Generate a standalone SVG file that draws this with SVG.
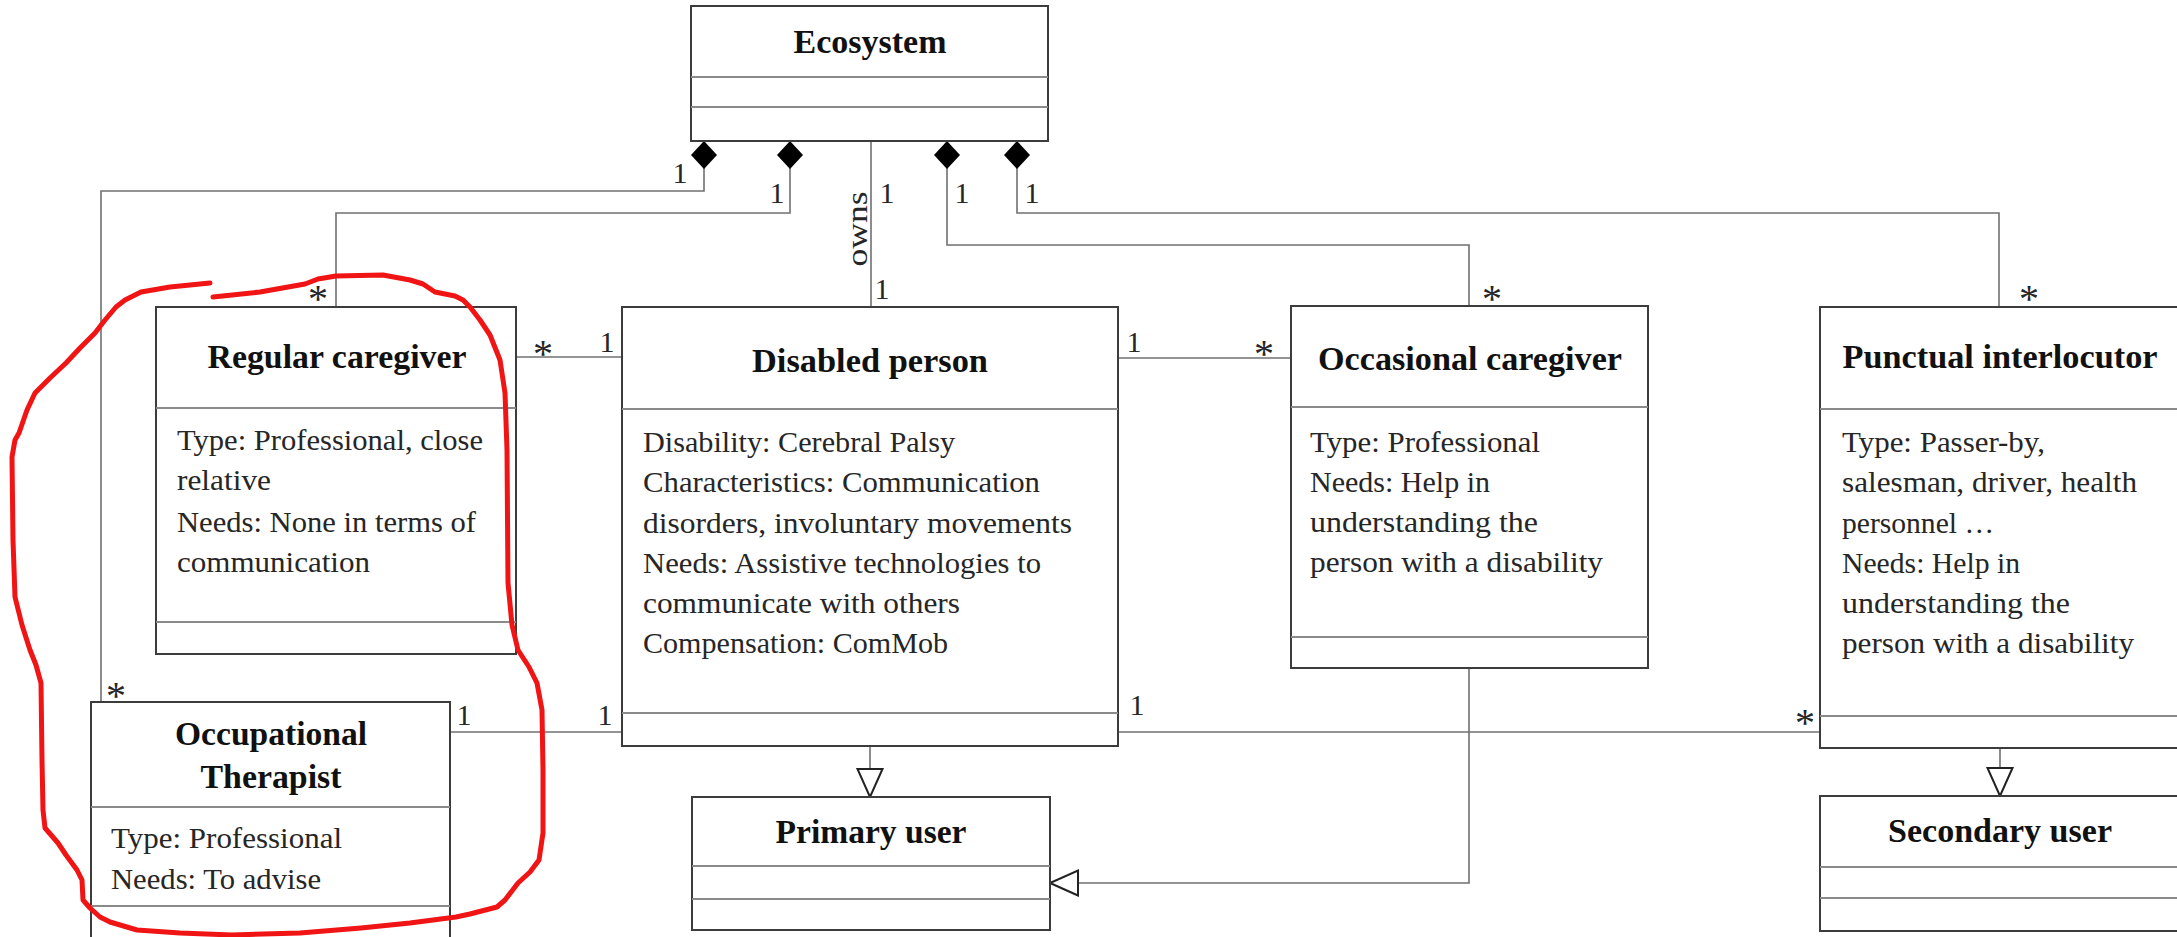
<svg xmlns="http://www.w3.org/2000/svg" width="2177" height="937" viewBox="0 0 2177 937">
  <defs>
    <style>
      .box{fill:#fff;stroke:#3c3c3c;stroke-width:2}
      .sep{stroke:#8a8a8a;stroke-width:2;fill:none}
      .conn{fill:none;stroke:#707070;stroke-width:1.6}
      .title{font-family:"Liberation Serif",serif;font-weight:bold;font-size:33px;fill:#111;text-anchor:middle}
      .attr{font-family:"Liberation Serif",serif;font-size:30px;fill:#262626}
      .mult{font-family:"Liberation Serif",serif;font-size:30px;fill:#262626;text-anchor:middle}
      .star{font-family:"Liberation Serif",serif;font-size:40px;fill:#262626;text-anchor:middle}
      .ink{fill:none;stroke:#f01414;stroke-width:5;stroke-linecap:round;stroke-linejoin:round}
    </style>
    <!-- filled diamond for composition ends -->
    <marker id="diamond" markerUnits="userSpaceOnUse" markerWidth="30" markerHeight="30" refX="0" refY="0" viewBox="-1 -15 30 30" orient="auto">
      <path d="M0,0 L14,-13 L28,0 L14,13 Z" fill="#000"/>
    </marker>
    <!-- hollow triangle for generalisation ends -->
    <marker id="gen" markerUnits="userSpaceOnUse" markerWidth="32" markerHeight="30" refX="28" refY="0" viewBox="-2 -15 32 30" orient="auto">
      <path d="M0,-12.5 L28,0 L0,12.5 Z" fill="#fff" stroke="#222" stroke-width="2"/>
    </marker>
  </defs>

  <rect width="2177" height="937" fill="#fff"/>

  <!-- connectors -->
  <g id="connectors">
    <path class="conn" d="M704,141 V191 H101 V702" marker-start="url(#diamond)"/>
    <path class="conn" d="M790,141 V213 H336 V307" marker-start="url(#diamond)"/>
    <path class="conn" d="M871,141 V307"/>
    <path class="conn" d="M947,141 V245 H1469 V306" marker-start="url(#diamond)"/>
    <path class="conn" d="M1017,141 V213 H1999 V307" marker-start="url(#diamond)"/>
    <path class="conn" d="M516,357 H622"/>
    <path class="conn" d="M1118,358 H1291"/>
    <path class="conn" d="M450,732 H622"/>
    <path class="conn" d="M1118,732 H1820"/>
    <path class="conn" d="M870,746 V797" marker-end="url(#gen)"/>
    <path class="conn" d="M2000,748 V796" marker-end="url(#gen)"/>
    <path class="conn" d="M1469,668 V883 H1050" marker-end="url(#gen)"/>

    <!-- multiplicities and role -->
    <text class="mult" x="680" y="183">1</text>
    <text class="mult" x="777" y="203">1</text>
    <text class="mult" x="887" y="203">1</text>
    <text class="mult" x="962" y="203">1</text>
    <text class="mult" x="1032" y="203">1</text>
    <text class="mult" x="882" y="299">1</text>
    <text class="mult" x="607" y="352">1</text>
    <text class="mult" x="464" y="725">1</text>
    <text class="mult" x="605" y="725">1</text>
    <text class="mult" x="1134" y="352">1</text>
    <text class="mult" x="1137" y="715">1</text>
    <text class="star" x="318" y="312">*</text>
    <text class="star" x="543" y="367">*</text>
    <text class="star" x="116" y="709">*</text>
    <text class="star" x="1264" y="367">*</text>
    <text class="star" x="1492" y="312">*</text>
    <text class="star" x="2029" y="312">*</text>
    <text class="star" x="1805" y="736">*</text>
    <text class="attr" transform="translate(867,229) rotate(-90)" text-anchor="middle" textLength="75" lengthAdjust="spacingAndGlyphs">owns</text>
  </g>

  <g id="ecosystem">
    <rect class="box" x="691" y="6" width="357" height="135"/>
    <path class="sep" d="M691,77 H1048 M691,107 H1048"/>
    <text class="title" x="870" y="53" textLength="153" lengthAdjust="spacingAndGlyphs">Ecosystem</text>
  </g>

  <g id="regular-caregiver">
    <rect class="box" x="156" y="307" width="360" height="347"/>
    <path class="sep" d="M156,408 H516 M156,622 H516"/>
    <text class="title" x="337" y="368" textLength="259" lengthAdjust="spacingAndGlyphs">Regular caregiver</text>
    <text class="attr" x="177" y="450" textLength="306" lengthAdjust="spacingAndGlyphs">Type: Professional, close</text>
    <text class="attr" x="177" y="490" textLength="94" lengthAdjust="spacingAndGlyphs">relative</text>
    <text class="attr" x="177" y="532" textLength="299" lengthAdjust="spacingAndGlyphs">Needs: None in terms of</text>
    <text class="attr" x="177" y="572" textLength="193" lengthAdjust="spacingAndGlyphs">communication</text>
  </g>

  <g id="disabled-person">
    <rect class="box" x="622" y="307" width="496" height="439"/>
    <path class="sep" d="M622,409 H1118 M622,713 H1118"/>
    <text class="title" x="870" y="372" textLength="236" lengthAdjust="spacingAndGlyphs">Disabled person</text>
    <text class="attr" x="643" y="452" textLength="312" lengthAdjust="spacingAndGlyphs">Disability: Cerebral Palsy</text>
    <text class="attr" x="643" y="492" textLength="397" lengthAdjust="spacingAndGlyphs">Characteristics: Communication</text>
    <text class="attr" x="643" y="533" textLength="429" lengthAdjust="spacingAndGlyphs">disorders, involuntary movements</text>
    <text class="attr" x="643" y="573" textLength="398" lengthAdjust="spacingAndGlyphs">Needs: Assistive technologies to</text>
    <text class="attr" x="643" y="613" textLength="317" lengthAdjust="spacingAndGlyphs">communicate with others</text>
    <text class="attr" x="643" y="653" textLength="305" lengthAdjust="spacingAndGlyphs">Compensation: ComMob</text>
  </g>

  <g id="occasional-caregiver">
    <rect class="box" x="1291" y="306" width="357" height="362"/>
    <path class="sep" d="M1291,407 H1648 M1291,637 H1648"/>
    <text class="title" x="1470" y="370" textLength="304" lengthAdjust="spacingAndGlyphs">Occasional caregiver</text>
    <text class="attr" x="1310" y="452" textLength="230" lengthAdjust="spacingAndGlyphs">Type: Professional</text>
    <text class="attr" x="1310" y="492" textLength="180" lengthAdjust="spacingAndGlyphs">Needs: Help in</text>
    <text class="attr" x="1310" y="532" textLength="228" lengthAdjust="spacingAndGlyphs">understanding the</text>
    <text class="attr" x="1310" y="572" textLength="293" lengthAdjust="spacingAndGlyphs">person with a disability</text>
  </g>

  <g id="punctual-interlocutor">
    <rect class="box" x="1820" y="307" width="365" height="441"/>
    <path class="sep" d="M1820,409 H2185 M1820,716 H2185"/>
    <text class="title" x="2000" y="368" textLength="315" lengthAdjust="spacingAndGlyphs">Punctual interlocutor</text>
    <text class="attr" x="1842" y="452" textLength="203" lengthAdjust="spacingAndGlyphs">Type: Passer-by,</text>
    <text class="attr" x="1842" y="492" textLength="295" lengthAdjust="spacingAndGlyphs">salesman, driver, health</text>
    <text class="attr" x="1842" y="533" textLength="152" lengthAdjust="spacingAndGlyphs">personnel …</text>
    <text class="attr" x="1842" y="573" textLength="178" lengthAdjust="spacingAndGlyphs">Needs: Help in</text>
    <text class="attr" x="1842" y="613" textLength="228" lengthAdjust="spacingAndGlyphs">understanding the</text>
    <text class="attr" x="1842" y="653" textLength="292" lengthAdjust="spacingAndGlyphs">person with a disability</text>
  </g>

  <g id="occupational-therapist">
    <rect class="box" x="91" y="702" width="359" height="250"/>
    <path class="sep" d="M91,807 H450 M91,906 H450"/>
    <text class="title" x="271" y="745" textLength="192" lengthAdjust="spacingAndGlyphs">Occupational</text>
    <text class="title" x="271" y="788" textLength="141" lengthAdjust="spacingAndGlyphs">Therapist</text>
    <text class="attr" x="111" y="848" textLength="231" lengthAdjust="spacingAndGlyphs">Type: Professional</text>
    <text class="attr" x="111" y="889" textLength="210" lengthAdjust="spacingAndGlyphs">Needs: To advise</text>
  </g>

  <g id="primary-user">
    <rect class="box" x="692" y="797" width="358" height="133"/>
    <path class="sep" d="M692,866 H1050 M692,899 H1050"/>
    <text class="title" x="871" y="843" textLength="191" lengthAdjust="spacingAndGlyphs">Primary user</text>
  </g>

  <g id="secondary-user">
    <rect class="box" x="1820" y="796" width="365" height="135"/>
    <path class="sep" d="M1820,867 H2185 M1820,898 H2185"/>
    <text class="title" x="2000" y="842" textLength="224" lengthAdjust="spacingAndGlyphs">Secondary user</text>
  </g>

  <!-- red freehand loop around the caregiver and therapist boxes -->
  <g id="highlight">
    <polyline class="ink" points="213,297 260,292 305,284 318,279 336,276 383,275 410,280 423,284 435,292 455,296 463,300 470,307 480,320 490,335 500,360 505,393 507,450 508,583 512,625 518,650 529,667 537,683 542,710 543,770 543,833 539,860 530,872 518,883 505,900 497,907 470,914 456,917 410,923 361,928 300,933 232,935 180,933 137,930 110,922 100,917 90,908 83,900 82,880 77,870 66,855 58,843 45,828 43,810 42,760 41,683 36,665 30,650 22,625 15,597 13,540 12,457 15,440 19,433 27,410 35,393 50,378 66,363 80,348 95,333 105,320 116,307 125,300 141,292 170,287 210,283"/>
  </g>
</svg>
